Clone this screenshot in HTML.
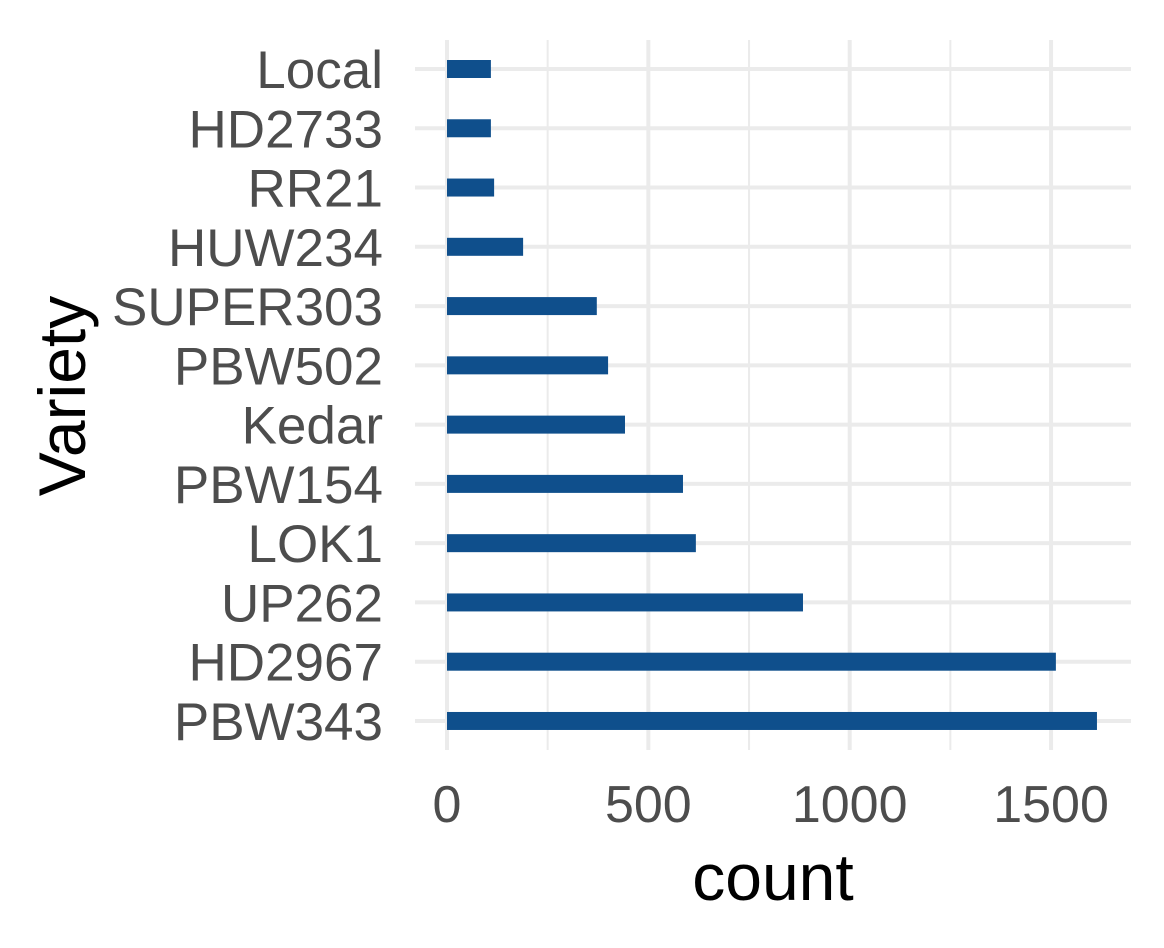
<!DOCTYPE html>
<html><head><meta charset="utf-8"><style>
html,body{margin:0;padding:0;background:#fff;}
svg{display:block;font-family:"Liberation Sans",Arial,sans-serif;}
</style></head><body>
<svg id="chart" width="1164" height="948"></svg>
<script>
const categories=["Local","HD2733","RR21","HUW234","SUPER303","PBW502","Kedar","PBW154","LOK1","UP262","HD2967","PBW343"];
const counts=[109,109,117,189,372,400,442,586,618,884,1512,1614];
const xTicks=[0,500,1000,1500];
const xMinor=[250,750,1250];
const NS="http://www.w3.org/2000/svg";
const svg=document.getElementById('chart');
const x=v=>447+v*0.4027;
const y=i=>69+i*59.27;
const px0=415,px1=1131,py0=40,py1=750;
function mk(t,a,p){const e=document.createElementNS(NS,t);for(const k in a)e.setAttribute(k,a[k]);(p||svg).appendChild(e);return e;}
const grid=mk('g',{});


xMinor.forEach(v=>{mk('line',{x1:x(v),x2:x(v),y1:py0,y2:py1,stroke:'#ebebeb','stroke-width':2},grid);});
xTicks.forEach(v=>{mk('line',{x1:x(v),x2:x(v),y1:py0,y2:py1,stroke:'#ebebeb','stroke-width':4},grid);});
categories.forEach((c,i)=>{mk('line',{x1:px0,x2:px1,y1:y(i),y2:y(i),stroke:'#ebebeb','stroke-width':4},grid);});
categories.forEach((c,i)=>{
  const r=mk('rect',{x:x(0),y:y(i)-9,width:x(counts[i])-x(0),height:18,fill:'#0f4f8c'});
  
  
  const t=mk('text',{x:383,y:y(i)+19,'text-anchor':'end','font-size':53,fill:'#4d4d4d'});
  t.textContent=c;
  
  
});
xTicks.forEach(v=>{
  const t=mk('text',{x:x(v),y:822,'text-anchor':'middle','font-size':52,fill:'#4d4d4d'});
  t.textContent=v;
  
  
});
const xt=mk('text',{x:773,y:900,'text-anchor':'middle','font-size':66,fill:'#000'});
xt.textContent='count';


const yt=mk('text',{x:0,y:0,'text-anchor':'middle','font-size':66,fill:'#000',transform:'translate(85,396) rotate(-90)'});
yt.textContent='Variety';


</script>
</body></html>
